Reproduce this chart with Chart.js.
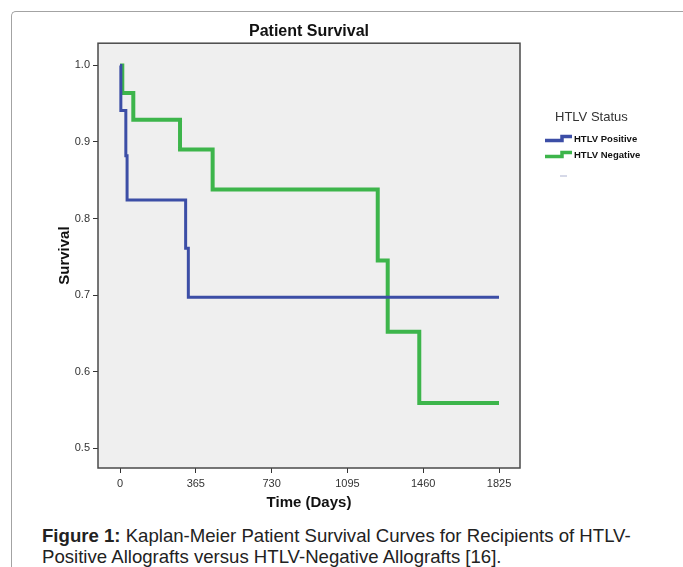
<!DOCTYPE html>
<html>
<head>
<meta charset="utf-8">
<script src="https://cdn.jsdelivr.net/npm/chart.js@4/dist/chart.umd.min.js"></script>
<style>
  html, body { margin: 0; padding: 0; background: #fff; }
  body { width: 683px; height: 567px; position: relative; overflow: hidden; font-family: "Liberation Sans", Arial, sans-serif; }
  #frame { position: absolute; left: 11px; top: 11px; width: 700px; height: 600px;
           border-top: 1px solid #a3a3a3; border-left: 1px solid #a3a3a3; border-top-left-radius: 5px; }
  #chart { position: absolute; left: 0; top: 0; }
  #caption { position: absolute; left: 42px; top: 526px; font-size: 18.6px; line-height: 20.5px; color: #222; white-space: nowrap; }
</style>
</head>
<body>
<div id="frame"></div>
<canvas id="chart" width="683" height="520"></canvas>
<div id="caption"><b>Figure 1:</b> Kaplan-Meier Patient Survival Curves for Recipients of HTLV-<br>Positive Allografts versus HTLV-Negative Allografts [16].</div>
<script>
// survival curves
const positiveDays = [0, 4, 28, 34, 316, 329, 1825];
const positiveSurvival = [1.0, 0.941, 0.882, 0.824, 0.761, 0.697, 0.697];

const negativeDays = [0, 11, 64, 289, 446, 1241, 1289, 1441, 1825];
const negativeSurvival = [1.0, 0.964, 0.929, 0.890, 0.838, 0.745, 0.652, 0.559, 0.559];

const xTicks = [0, 365, 730, 1095, 1460, 1825];
const yTicks = [0.5, 0.6, 0.7, 0.8, 0.9, 1.0];

const legendTitle = 'HTLV Status';
const seriesNames = ['HTLV Positive', 'HTLV Negative'];
const seriesColors = ['#3c4ea6', '#3db54b'];

function toPoints(xs, ys) {
    return xs.map((x, i) => ({x: x, y: ys[i]}));
}

// grey plot background + frame
const plotBox = {
    id: 'plotBox',
    beforeDatasetsDraw(chart) {
        const a = chart.chartArea, ctx = chart.ctx;
        ctx.save();
        ctx.fillStyle = '#efefef';
        ctx.fillRect(a.left, a.top, a.right - a.left, a.bottom - a.top);
        ctx.restore();
    },
    afterDatasetsDraw(chart) {
        const a = chart.chartArea, ctx = chart.ctx;
        ctx.save();
        ctx.strokeStyle = '#4a4a4a';
        ctx.lineWidth = 1.5;
        ctx.strokeRect(a.left, a.top, a.right - a.left, a.bottom - a.top);
        ctx.restore();
    }
};

// SPSS style legend on the right
const stepLegend = {
    id: 'stepLegend',
    afterDraw(chart) {
        const ctx = chart.ctx;
        ctx.save();
        ctx.fillStyle = '#333';
        ctx.font = '13px "Liberation Sans", Arial, sans-serif';
        ctx.textBaseline = 'middle';
        ctx.fillText(legendTitle, 555, 117);
        const rows = [139, 155];
        seriesNames.forEach((name, i) => {
            const y = rows[i];
            ctx.strokeStyle = seriesColors[i];
            ctx.lineWidth = 3.5;
            ctx.beginPath();
            ctx.moveTo(545, y + 1.5);
            ctx.lineTo(562, y + 1.5);
            ctx.lineTo(562, y - 2.5);
            ctx.lineTo(572, y - 2.5);
            ctx.stroke();
            ctx.fillStyle = '#111';
            ctx.font = 'bold 9.5px "Liberation Sans", Arial, sans-serif';
            ctx.fillText(name, 574, y);
        });
        ctx.strokeStyle = '#c9cde0';
        ctx.lineWidth = 1.5;
        ctx.beginPath();
        ctx.moveTo(560, 176);
        ctx.lineTo(567, 176);
        ctx.stroke();
        ctx.restore();
    }
};

var ctx = document.getElementById('chart');
window.survival_chart = new Chart(ctx, {
    type: 'line',
    data: {
        datasets: [{
            label: seriesNames[0],
            data: toPoints(positiveDays, positiveSurvival),
            borderColor: seriesColors[0],
            borderWidth: 3,
            stepped: 'before',
            fill: false
        },
        {
            label: seriesNames[1],
            data: toPoints(negativeDays, negativeSurvival),
            borderColor: seriesColors[1],
            borderWidth: 4,
            stepped: 'before',
            fill: false
        }]
    },
    options: {
        responsive: false,
        animation: false,
        elements: {
            point: { radius: 0 }
        },
        layout: {
            padding: { left: 50, right: 163, top: 22, bottom: 8 }
        },
        plugins: {
            legend: { display: false },
            tooltip: { enabled: false },
            title: {
                display: true,
                text: 'Patient Survival',
                fullSize: false,
                color: '#111',
                font: { family: '"Liberation Sans", Arial, sans-serif', size: 16, weight: 'bold' },
                padding: { top: 0, bottom: 2 }
            }
        },
        scales: {
            x: {
                type: 'linear',
                min: -106,
                max: 1926,
                afterBuildTicks: scale => { scale.ticks = xTicks.map(v => ({value: v})); },
                afterFit: scale => { scale.height = 44; },
                grid: { drawOnChartArea: false, drawTicks: true, tickLength: 5, color: '#333', lineWidth: 1 },
                border: { display: false },
                ticks: {
                    color: '#333',
                    padding: 4,
                    maxRotation: 0,
                    callback: v => String(v),
                    font: { family: '"Liberation Sans", Arial, sans-serif', size: 11 }
                },
                title: {
                    display: true,
                    text: 'Time (Days)',
                    color: '#111',
                    padding: { top: 0, bottom: 0 },
                    font: { family: '"Liberation Sans", Arial, sans-serif', size: 15, weight: 'bold' }
                }
            },
            y: {
                min: 0.474,
                max: 1.029,
                afterBuildTicks: scale => { scale.ticks = yTicks.map(v => ({value: v})); },
                afterFit: scale => { scale.width = 48; },
                grid: { drawOnChartArea: false, drawTicks: true, tickLength: 5, color: '#333', lineWidth: 1 },
                border: { display: false },
                ticks: {
                    color: '#333',
                    padding: 3,
                    callback: v => v.toFixed(1),
                    font: { family: '"Liberation Sans", Arial, sans-serif', size: 11 }
                },
                title: {
                    display: true,
                    text: 'Survival',
                    color: '#111',
                    padding: { top: 6, bottom: 0 },
                    font: { family: '"Liberation Sans", Arial, sans-serif', size: 15, weight: 'bold' }
                }
            }
        }
    },
    plugins: [plotBox, stepLegend]
});
</script>
</body>
</html>
